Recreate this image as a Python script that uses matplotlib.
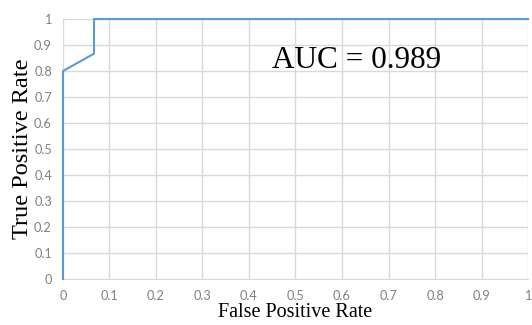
import matplotlib
matplotlib.use('Agg')
import matplotlib.pyplot as plt

# ROC curve points
fpr = [0, 0, 0.0667, 0.0667, 1]
tpr = [0, 0.8, 0.8667, 1, 1]
ticks = [0, 0.1, 0.2, 0.3, 0.4, 0.5, 0.6, 0.7, 0.8, 0.9, 1]
tick_labels = ['0', '0.1', '0.2', '0.3', '0.4', '0.5', '0.6', '0.7', '0.8', '0.9', '1']
auc_text = 'AUC = 0.989'

fig = plt.figure(figsize=(5.32, 3.25), dpi=100)
ax = fig.add_axes([0.1184, 0.1415, 0.8741, 0.8])

ax.plot(fpr, tpr, color='#5b9bd5', linewidth=1.5, zorder=3, clip_on=False)

ax.set_xlim(0, 1)
ax.set_ylim(0, 1)
ax.set_xticks(ticks)
ax.set_xticklabels(tick_labels)
ax.set_yticks(ticks)
ax.set_yticklabels(tick_labels)
ax.grid(True, color='#d9d9d9', linewidth=1)
ax.set_axisbelow(True)

for s in ['top', 'right', 'left']:
    ax.spines[s].set_visible(False)
ax.spines['bottom'].set_color('#d9d9d9')
ax.tick_params(length=0, labelsize=9.2, labelcolor='#808080')
ax.tick_params(axis='x', pad=8)
ax.tick_params(axis='y', pad=8)
for lab in ax.get_xticklabels() + ax.get_yticklabels():
    lab.set_family('Lato')

ax.set_xlabel('False Positive Rate', family='Liberation Serif', fontsize=14.5, labelpad=0.5)
ax.set_ylabel('True Positive Rate', family='Liberation Serif', fontsize=17.5, labelpad=0.5)
ax.text(0.45, 0.84, auc_text, family='Liberation Serif', fontsize=22.5,
        transform=ax.transAxes, va='center', ha='left')

fig.savefig('out.png', dpi=100)
